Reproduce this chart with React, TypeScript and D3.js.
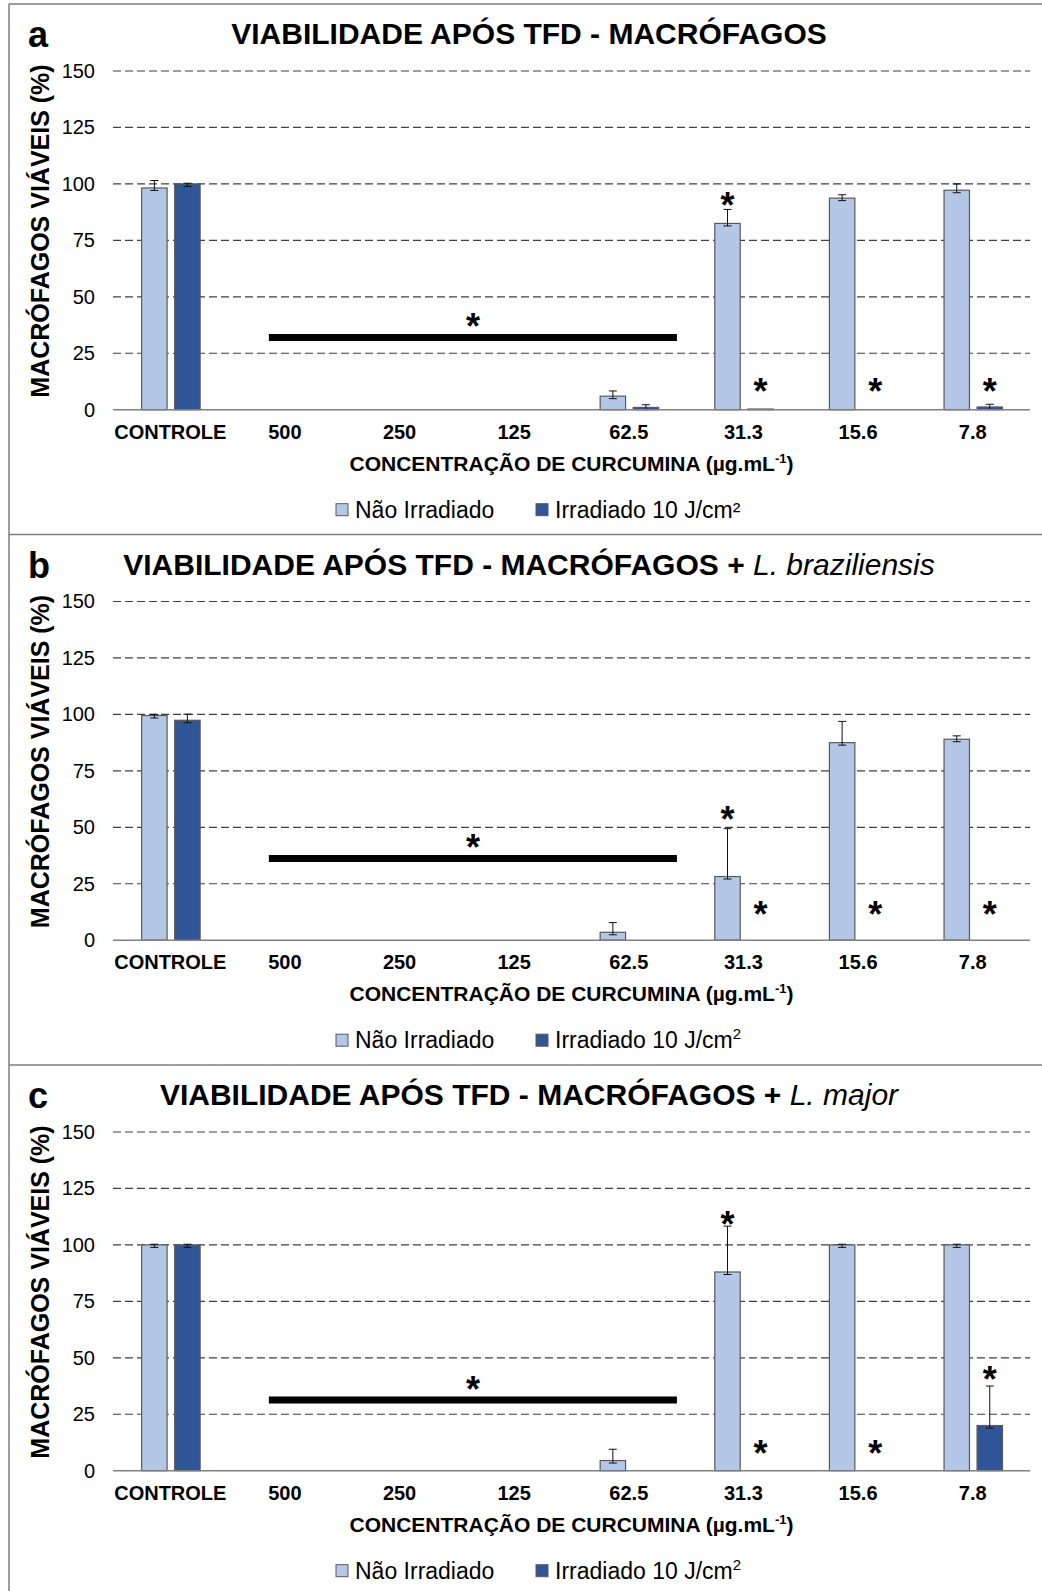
import { useRef, useEffect } from "react";
import * as d3 from "d3";

const categories = ["CONTROLE", "500", "250", "125", "62.5", "31.3", "15.6", "7.8"];
const yTicks = [0, 25, 50, 75, 100, 125, 150];
const seriesNames = ["Não Irradiado", "Irradiado 10 J/cm²"];

// painel a
const naoA = [98.2, 0, 0, 0, 6, 82.5, 93.7, 97.2];
const naoAErr = [3.3, 0, 0, 0, 2.3, 6.2, 1.5, 2.8];
const irrA = [100, 0, 0, 0, 1, 0.3, 0, 1.2];
const irrAErr = [0.3, 0, 0, 0, 1.2, 0, 0, 1.2];
const astA = [["31.3", 0, 94], ["31.3", 1, 12], ["15.6", 1, 12], ["7.8", 1, 12]];

// painel b
const naoB = [99.5, 0, 0, 0, 3.5, 28.2, 87.5, 89];
const naoBErr = [0.5, 0, 0, 0, 4.3, 21.2, 9.4, 1.5];
const irrB = [97.4, 0, 0, 0, 0, 0, 0, 0];
const irrBErr = [2.7, 0, 0, 0, 0, 0, 0, 0];
const astB = [["31.3", 0, 57], ["31.3", 1, 15], ["15.6", 1, 15], ["7.8", 1, 15]];

// painel c
const naoC = [100, 0, 0, 0, 4.5, 88, 100, 100];
const naoCErr = [0.3, 0, 0, 0, 5, 20.3, 0.3, 0.3];
const irrC = [100, 0, 0, 0, 0, 0, 0, 20];
const irrCErr = [0.3, 0, 0, 0, 0, 0, 0, 17.5];
const astC = [["31.3", 0, 113], ["31.3", 1, 11.5], ["15.6", 1, 11.5], ["7.8", 1, 44]];

const sigLevels = [32, 36.2, 31.3];

const panels = [
  { letter: "a", italic: "", nao: naoA, naoErr: naoAErr, irr: irrA, irrErr: irrAErr, ast: astA, sig: sigLevels[0], supLegend: false },
  { letter: "b", italic: "L. braziliensis", nao: naoB, naoErr: naoBErr, irr: irrB, irrErr: irrBErr, ast: astB, sig: sigLevels[1], supLegend: true },
  { letter: "c", italic: "L. major", nao: naoC, naoErr: naoCErr, irr: irrC, irrErr: irrCErr, ast: astC, sig: sigLevels[2], supLegend: true },
];

const W = 1042;
const H = 1591;
const FONT = "'Liberation Sans', Arial, sans-serif";
const LIGHT = "#b4c7e7";
const DARK = "#2f5597";

const App = () => {
  const svgRef = useRef(null);

  useEffect(() => {
    const svg = d3.select(svgRef.current);
    svg.selectAll("*").remove();
    svg.append("rect").attr("width", W).attr("height", H).attr("fill", "#fff");

    const panelH = 530.5;
    const left = 113;
    const right = 1030;
    const plotTopOff = 67;
    const plotH = 338.7;

    // moldura
    svg.append("line").attr("x1", 9).attr("x2", 9).attr("y1", 4).attr("y2", H)
      .attr("stroke", "#7f7f7f").attr("stroke-width", 1.5);
    [0, 1, 2].forEach((i) => {
      const y = 4 + panelH * i;
      svg.append("line").attr("x1", 9).attr("x2", W).attr("y1", y).attr("y2", y)
        .attr("stroke", "#7f7f7f").attr("stroke-width", 1.5);
    });

    const x = d3.scaleBand().domain(categories).range([left, right]).paddingInner(0).paddingOuter(0);
    const bw = x.bandwidth();
    const xs = d3.scaleBand().domain(["0", "1"]).range([bw * 0.25, bw * 0.76]).paddingInner(0.23);

    panels.forEach((p, i) => {
      const top = 4 + panelH * i + plotTopOff;
      const y = d3.scaleLinear().domain([0, 150]).range([top + plotH, top]);
      const zero = y(0);
      const g = svg.append("g").style("font-family", FONT);

      // grade
      g.selectAll(".grid")
        .data(yTicks.filter((t) => t > 0))
        .enter()
        .append("line")
        .attr("x1", left)
        .attr("x2", right)
        .attr("y1", (d) => y(d))
        .attr("y2", (d) => y(d))
        .attr("stroke", "#404040")
        .attr("stroke-width", 1.2)
        .attr("stroke-dasharray", "8,4");

      // eixo y
      const yAxis = g.append("g").attr("transform", `translate(${left},0)`)
        .call(d3.axisLeft(y).tickValues(yTicks).tickSize(0).tickPadding(18));
      yAxis.select(".domain").remove();
      yAxis.selectAll("text").style("font-size", "20px").style("font-family", FONT).attr("fill", "#000");

      // eixo x
      const xAxis = g.append("g").attr("transform", `translate(0,${zero})`)
        .call(d3.axisBottom(x).tickSize(0).tickPadding(15));
      xAxis.select(".domain").remove();
      xAxis.selectAll("text").style("font-size", "20px").style("font-weight", "bold")
        .style("font-family", FONT).attr("fill", "#000");

      // barras
      const series = [
        { vals: p.nao, err: p.naoErr, fill: LIGHT, key: "0" },
        { vals: p.irr, err: p.irrErr, fill: DARK, key: "1" },
      ];
      series.forEach((s) => {
        const rows = categories.map((c, k) => ({ c, v: s.vals[k], e: s.err[k] })).filter((r) => r.v > 0);
        g.selectAll(null)
          .data(rows)
          .enter()
          .append("rect")
          .attr("x", (d) => x(d.c) + xs(s.key))
          .attr("y", (d) => y(d.v))
          .attr("width", xs.bandwidth())
          .attr("height", (d) => zero - y(d.v))
          .attr("fill", s.fill)
          .attr("stroke", "#595959")
          .attr("stroke-width", 1.2);

        // barras de erro (sentido positivo)
        const errs = rows.filter((r) => r.e > 0);
        const cx = (d) => x(d.c) + xs(s.key) + xs.bandwidth() / 2;
        const yLow = (d) => Math.min(y(d.v) + 2.5, zero);
        g.selectAll(null).data(errs).enter().append("line")
          .attr("x1", cx).attr("x2", cx)
          .attr("y1", yLow).attr("y2", (d) => y(d.v + d.e))
          .attr("stroke", "#111").attr("stroke-width", 1);
        g.selectAll(null).data(errs).enter().append("line")
          .attr("x1", (d) => cx(d) - 4).attr("x2", (d) => cx(d) + 4)
          .attr("y1", (d) => y(d.v + d.e)).attr("y2", (d) => y(d.v + d.e))
          .attr("stroke", "#111").attr("stroke-width", 1);
        g.selectAll(null).data(errs).enter().append("line")
          .attr("x1", (d) => cx(d) - 4).attr("x2", (d) => cx(d) + 4)
          .attr("y1", yLow).attr("y2", yLow)
          .attr("stroke", "#111").attr("stroke-width", 1);
      });

      // linha do zero
      g.append("line").attr("x1", left).attr("x2", right).attr("y1", zero).attr("y2", zero)
        .attr("stroke", "#808080").attr("stroke-width", 1.5);

      // asteriscos
      g.selectAll(null)
        .data(p.ast)
        .enter()
        .append("text")
        .attr("x", (d) => x(d[0]) + xs(String(d[1])) + xs.bandwidth() / 2)
        .attr("y", (d) => y(d[2]) + 21)
        .attr("text-anchor", "middle")
        .style("font-size", "36px")
        .style("font-weight", "bold")
        .text("*");

      // barra de significancia
      const sx1 = x("500") + bw * 0.36;
      const sx2 = x("31.3") - bw * 0.08;
      g.append("line").attr("x1", sx1).attr("x2", sx2).attr("y1", y(p.sig)).attr("y2", y(p.sig))
        .attr("stroke", "#000").attr("stroke-width", 7);
      g.append("text").attr("x", (sx1 + sx2) / 2).attr("y", y(p.sig + 8.5) + 21)
        .attr("text-anchor", "middle").style("font-size", "36px").style("font-weight", "bold").text("*");

      // titulo
      g.append("text").attr("x", 28).attr("y", top - 24)
        .style("font-size", "36px").style("font-weight", "bold").text(p.letter);
      const t = g.append("text").attr("x", 529).attr("y", top - 27).attr("text-anchor", "middle")
        .style("font-size", "30px");
      t.append("tspan").style("font-weight", "bold")
        .text("VIABILIDADE APÓS TFD - MACRÓFAGOS" + (p.italic ? " + " : ""));
      if (p.italic) t.append("tspan").style("font-style", "italic").text(p.italic);

      // titulo eixo y
      g.append("text")
        .attr("transform", `translate(49,${top + 160}) rotate(-90)`)
        .attr("text-anchor", "middle")
        .style("font-size", "25px").style("font-weight", "bold")
        .text("MACRÓFAGOS VIÁVEIS (%)");

      // titulo eixo x
      const xt = g.append("text").attr("x", (left + right) / 2).attr("y", zero + 61)
        .attr("text-anchor", "middle").style("font-size", "21px").style("font-weight", "bold");
      xt.append("tspan").text("CONCENTRAÇÃO DE CURCUMINA (µg.mL");
      xt.append("tspan").attr("dy", -8).style("font-size", "13px").text("-1");
      xt.append("tspan").attr("dy", 8).text(")");

      // legenda
      const ly = zero + 100;
      [LIGHT, DARK].forEach((c, k) => {
        const lx = k === 0 ? 336 : 536;
        g.append("rect").attr("x", lx).attr("y", ly - 6).attr("width", 12).attr("height", 12)
          .attr("fill", c).attr("stroke", "#595959").attr("stroke-width", 1);
        const lt = g.append("text").attr("x", lx + 19).attr("y", ly + 8).style("font-size", "23px");
        if (k === 1 && p.supLegend) {
          lt.append("tspan").text("Irradiado 10 J/cm");
          lt.append("tspan").attr("dy", -9).style("font-size", "15px").text("2");
        } else {
          lt.text(seriesNames[k]);
        }
      });
    });
  }, []);

  return (
    <svg
      ref={svgRef}
      width={W}
      height={H}
      style={{ position: "absolute", left: 0, top: 0, display: "block" }}
    />
  );
};

export default App;
